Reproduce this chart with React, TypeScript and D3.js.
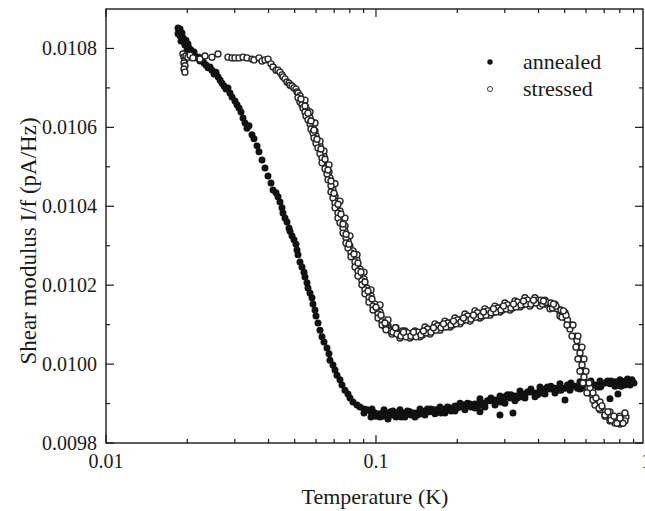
import React from "react";
import * as d3 from "d3";

// ---- data ----
const annealedT = [
  0.01848, 0.01864, 0.0188, 0.01848, 0.0188, 0.01912, 0.01928, 0.01896, 0.01945, 0.01978,
  0.01961, 0.02012, 0.0203, 0.01995, 0.02065, 0.02082, 0.02118, 0.02136, 0.02173, 0.0221,
  0.02229, 0.02268, 0.02307, 0.02346, 0.02387, 0.02428, 0.02469, 0.02512, 0.02555, 0.02599,
  0.02644, 0.02689, 0.02736, 0.02783, 0.0283, 0.02879, 0.02929, 0.03004, 0.03056, 0.03109,
  0.03162, 0.03217, 0.03272, 0.03328, 0.03386, 0.03473, 0.03533, 0.03625, 0.03687, 0.03782,
  0.0388, 0.03981, 0.04084, 0.04155, 0.04262, 0.04336, 0.0441, 0.04486, 0.04524, 0.04602,
  0.04681, 0.04762, 0.04803, 0.04885, 0.04969, 0.05055, 0.05098, 0.05142, 0.0523, 0.0532,
  0.05412, 0.05458, 0.05552, 0.056, 0.05696, 0.05794, 0.05843, 0.05944, 0.05995, 0.06098,
  0.06203, 0.0631, 0.06418, 0.06585, 0.06698, 0.06755, 0.0693, 0.07049, 0.07171, 0.07356,
  0.07483, 0.07677, 0.07875, 0.08011, 0.08219, 0.08504, 0.08724, 0.09027, 0.09261, 0.09582,
  0.09915, 0.1035, 0.1071, 0.1108, 0.1146, 0.1186, 0.1227, 0.128, 0.1336, 0.1395,
  0.1455, 0.1519, 0.1585, 0.1654, 0.1726, 0.1801, 0.188, 0.1961, 0.2047, 0.2136,
  0.2229, 0.2326, 0.2428, 0.2428, 0.2533, 0.2644, 0.2759, 0.2879, 0.2879, 0.3004,
  0.3135, 0.3217, 0.3272, 0.3415, 0.3563, 0.3718, 0.388, 0.405, 0.4226, 0.441,
  0.4602, 0.4803, 0.5012, 0.5012, 0.523, 0.5458, 0.5696, 0.5944, 0.6203, 0.6473,
  0.6755, 0.7049, 0.7356, 0.7356, 0.7677, 0.7875, 0.8011, 0.836, 0.8577, 0.8875,
  // lower edge of the band
  0.09027, 0.09582, 0.1035, 0.1108, 0.1186, 0.128, 0.1395, 0.1519, 0.1654, 0.1801,
  0.1961, 0.2136, 0.2326, 0.2533, 0.2759, 0.3004, 0.3272, 0.3563, 0.388, 0.4226,
  0.4602, 0.523, 0.5696, 0.6203, 0.6755, 0.7677, 0.836,
  // upper edge of the band
  0.1071, 0.1227, 0.1455, 0.1726, 0.2047, 0.2428, 0.2879, 0.3415, 0.405, 0.4803,
  0.5696, 0.6755, 0.8011, 0.8875,
  // more points inside the flat band
  0.10574, 0.11319, 0.12116, 0.13076, 0.14251, 0.15518, 0.16897, 0.18399, 0.20034, 0.21821,
  0.23762, 0.25877, 0.28186, 0.30689, 0.33427, 0.364, 0.39638, 0.43173, 0.47014, 0.51203,
  0.55759, 0.60724, 0.66128, 0.72013, 0.78428, 0.85406,
  0.09664, 0.1, 0.11558, 0.12375, 0.13474, 0.14675, 0.15986, 0.17408, 0.18961, 0.20645,
  0.22481, 0.24488, 0.26666, 0.29036, 0.31618, 0.34442, 0.37498, 0.40847, 0.44477, 0.48441,
  0.52748, 0.57448, 0.6256, 0.68128, 0.7419, 0.80796, 0.8731, 0.9028,
];
const annealedV = [
  0.010852, 0.010844, 0.010849, 0.010837, 0.010832, 0.010839, 0.010827, 0.010819, 0.010816, 0.010821,
  0.010809, 0.010811, 0.010801, 0.010796, 0.010796, 0.010786, 0.010791, 0.010781, 0.010776, 0.010778,
  0.010768, 0.010771, 0.010763, 0.010758, 0.010751, 0.010753, 0.010745, 0.010735, 0.01074, 0.010728,
  0.01072, 0.010712, 0.010705, 0.010697, 0.0107, 0.010687, 0.010677, 0.010667, 0.010657, 0.010649,
  0.010639, 0.010624, 0.010611, 0.010598, 0.010604, 0.010581, 0.010571, 0.010553, 0.010538, 0.010517,
  0.010497, 0.010477, 0.010459, 0.010441, 0.010434, 0.010424, 0.010411, 0.010396, 0.010383, 0.01037,
  0.01036, 0.010345, 0.010337, 0.010325, 0.010315, 0.010304, 0.010289, 0.010277, 0.010259, 0.010246,
  0.010233, 0.010221, 0.010206, 0.010193, 0.01018, 0.010168, 0.010152, 0.010137, 0.010122, 0.010104,
  0.010086, 0.010069, 0.010056, 0.010041, 0.010026, 0.01001, 0.009998, 0.009985, 0.009972, 0.00996,
  0.009947, 0.009934, 0.009924, 0.009914, 0.009904, 0.009896, 0.009891, 0.009886, 0.009884, 0.009879,
  0.009876, 0.009874, 0.009876, 0.009874, 0.009871, 0.009876, 0.009874, 0.009876, 0.009879, 0.009876,
  0.009879, 0.009881, 0.009879, 0.009884, 0.009884, 0.009886, 0.009889, 0.009894, 0.009891, 0.009896,
  0.009899, 0.009899, 0.009904, 0.009879, 0.009901, 0.009907, 0.009909, 0.009912, 0.009871, 0.009917,
  0.009914, 0.009876, 0.009919, 0.009924, 0.009924, 0.009929, 0.009927, 0.009934, 0.009937, 0.009937,
  0.009939, 0.009942, 0.009939, 0.009909, 0.009944, 0.009944, 0.009947, 0.009944, 0.00995, 0.009947,
  0.00995, 0.009952, 0.00995, 0.009912, 0.009955, 0.009924, 0.009952, 0.009957, 0.00995, 0.009955,
  // lower edge
  0.009876, 0.009866, 0.009866, 0.009861, 0.009866, 0.009866, 0.009866, 0.009871, 0.009874, 0.009876,
  0.009881, 0.009884, 0.009889, 0.009891, 0.009896, 0.009901, 0.009907, 0.009914, 0.009917, 0.009924,
  0.009927, 0.009934, 0.009937, 0.009939, 0.009942, 0.009944, 0.009947,
  // upper edge
  0.009884, 0.009884, 0.009886, 0.009891, 0.009901, 0.009912, 0.009919, 0.009932, 0.009942, 0.00995,
  0.009955, 0.009957, 0.00996, 0.00996,
  // more points inside the flat band
  0.009868, 0.009879, 0.009868, 0.009881, 0.009871, 0.009886, 0.009879, 0.009891, 0.009889, 0.009901,
  0.009894, 0.009907, 0.009904, 0.009922, 0.009914, 0.009929, 0.009922, 0.009942, 0.009934, 0.009947,
  0.009939, 0.009952, 0.009942, 0.009957, 0.009947, 0.009962,
  0.009886, 0.009868, 0.009881, 0.009866, 0.009871, 0.009874, 0.009886, 0.009876, 0.009881, 0.009899,
  0.009891, 0.009896, 0.009914, 0.009904, 0.009922, 0.009917, 0.009937, 0.009927, 0.009944, 0.009934,
  0.009952, 0.009939, 0.009957, 0.009944, 0.009957, 0.009944, 0.009947, 0.009952,
];

const stressedT = [
  0.01928, 0.01945, 0.01961, 0.01945, 0.01961, 0.01945, 0.01961, 0.01978, 0.02012, 0.02047,
  0.021, 0.02229, 0.02326, 0.02469, 0.02599, 0.0283, 0.02929, 0.03004, 0.03109, 0.03217,
  0.03328, 0.03473, 0.03533, 0.03687, 0.03782, 0.0388, 0.03981, 0.04084, 0.04155, 0.04262,
  0.04336, 0.0441, 0.04486, 0.04524, 0.04602, 0.04681, 0.04762, 0.04803, 0.04885, 0.04969,
  0.05055, 0.05098, 0.05142, 0.0523, 0.0532, 0.05412, 0.05458, 0.05552, 0.056, 0.05696,
  0.05794, 0.05843, 0.05944, 0.05995, 0.06098, 0.06203, 0.0631, 0.06418, 0.06418, 0.06585,
  0.06698, 0.06755, 0.0693, 0.0693, 0.07049, 0.07171, 0.07171, 0.07356, 0.07356, 0.07483,
  0.07677, 0.07677, 0.07875, 0.07875, 0.08011, 0.08219, 0.08219, 0.08504, 0.08504, 0.08724,
  0.08724, 0.09027, 0.09027, 0.09261, 0.09261, 0.09582, 0.09582, 0.09915, 0.09915, 0.1035,
  0.1035, 0.1071, 0.1071, 0.1108, 0.1108, 0.1146, 0.1186, 0.1227, 0.128, 0.1336,
  0.1395, 0.1455, 0.1519, 0.1585, 0.1654, 0.1726, 0.1801, 0.188, 0.1961, 0.2047,
  0.2136, 0.2229, 0.2326, 0.2428, 0.2533, 0.2644, 0.2759, 0.2879, 0.3004, 0.3135,
  0.3272, 0.3415, 0.3563, 0.3718, 0.388, 0.405, 0.4226, 0.441, 0.4602, 0.4803,
  0.5012, 0.523, 0.5458, 0.5552, 0.5648, 0.5696, 0.5745, 0.5794, 0.5843, 0.5894,
  0.5995, 0.6098, 0.6203, 0.6364, 0.6529, 0.6698, 0.6871, 0.7049, 0.7232, 0.7419,
  0.7611, 0.7809, 0.8011, 0.8219, 0.8432,
  // upper edge of the flat band
  0.1186, 0.128, 0.1395, 0.1519, 0.1654, 0.1801, 0.1961, 0.2136, 0.2326, 0.2533,
  0.2759, 0.3004, 0.3272, 0.3563, 0.388, 0.4226, 0.4602, 0.5012,
  // lower edge of the flat band
  0.1146, 0.1227, 0.1336, 0.1455, 0.1585, 0.1726, 0.188, 0.2047, 0.2229, 0.2428,
  0.2644, 0.2879, 0.3135, 0.3415, 0.3718, 0.405, 0.441, 0.4803, 0.523,
  // tail band edges
  0.6473, 0.6755, 0.7049, 0.7356, 0.7677, 0.8011, 0.836,
  0.6203, 0.6755, 0.7356, 0.8011, 0.836,
  // right edge of the steep part
  0.05458, 0.05696, 0.05944, 0.06203, 0.06418, 0.06698, 0.07049, 0.07356, 0.07677, 0.08011,
  0.08504, 0.09027, 0.09582, 0.1035, 0.1108,
  // more points in the flat band
  0.13076, 0.13649, 0.14251, 0.14864, 0.15518, 0.16192, 0.16897, 0.17633, 0.18399, 0.19206,
  0.20034, 0.20912, 0.21821, 0.22771, 0.23762, 0.24804, 0.25877, 0.27011, 0.28186, 0.29412,
  0.30689, 0.32027, 0.33427, 0.34888, 0.364, 0.37983, 0.39638, 0.41375, 0.43173, 0.45053,
  0.47014, 0.49067, 0.51203, 0.12116, 0.12535, 0.11708, 0.11319,
  // left edge of the steep part
  0.05142, 0.0523, 0.0532, 0.05366, 0.05458, 0.05505, 0.056, 0.05696, 0.05744, 0.05843,
  0.05894, 0.05995, 0.06098, 0.06203, 0.0631, 0.0631, 0.06474, 0.06585, 0.06641, 0.06813,
  0.06813, 0.0693, 0.0705, 0.0705, 0.07232, 0.07232, 0.07356, 0.07547, 0.07547, 0.07742,
  0.07742, 0.07875, 0.0808, 0.0808, 0.0836, 0.0836, 0.08576, 0.08576, 0.08874, 0.08874,
  0.09104, 0.09104, 0.0942, 0.0942, 0.09747, 0.09747, 0.10175, 0.10175, 0.10529, 0.10529,
  0.10893, 0.10893,
  // drop and tail
  0.53655, 0.55994, 0.57943, 0.58939, 0.59944, 0.61503, 0.63637,
  0.53201, 0.55053, 0.55999, 0.56954, 0.58436, 0.60463, 0.48854, 0.50979,
  0.6364, 0.6698, 0.7049, 0.7419, 0.7809, 0.8219,
  0.6529, 0.6871, 0.7232, 0.7611, 0.8011,
  // further points in the flat band
  0.11558, 0.11962, 0.12375, 0.1291, 0.13474, 0.14069, 0.14675, 0.1532, 0.15986, 0.16682,
  0.17408, 0.18164, 0.18961, 0.19778, 0.20645, 0.21543, 0.22481, 0.23459, 0.24488, 0.25547,
  0.26666, 0.27826, 0.29036, 0.30297, 0.31618, 0.33, 0.34442, 0.3594, 0.37498, 0.39132,
  0.40847, 0.42622, 0.44477, 0.46414, 0.48441, 0.50549,
  0.11807, 0.12642, 0.13765, 0.14991, 0.1633, 0.17783, 0.1937, 0.2109, 0.22965, 0.25016,
  0.27241, 0.29662, 0.323, 0.35185, 0.38307, 0.41727, 0.45436, 0.49485,
  // further points in the steep part
  0.05275, 0.05458, 0.056, 0.05745, 0.05893, 0.06046, 0.06256, 0.06473, 0.06641, 0.06813,
  0.06989, 0.07232, 0.07419, 0.07547, 0.07743, 0.07942, 0.08289, 0.08577, 0.08799, 0.09104,
  0.0934, 0.09664, 0.1, 0.10439, 0.10802,
];
const stressedV = [
  0.010786, 0.010778, 0.010771, 0.010763, 0.010756, 0.010748, 0.01074, 0.010781, 0.010778, 0.010783,
  0.010776, 0.010773, 0.010781, 0.010778, 0.010786, 0.010778, 0.010776, 0.010776, 0.010776, 0.010778,
  0.010776, 0.010773, 0.010771, 0.010776, 0.010768, 0.010771, 0.010773, 0.010761, 0.010753, 0.010745,
  0.010745, 0.01074, 0.010733, 0.010728, 0.010723, 0.010715, 0.010712, 0.010707, 0.010705, 0.0107,
  0.010697, 0.01069, 0.010687, 0.01068, 0.010669, 0.010662, 0.010654, 0.010644, 0.010634, 0.010624,
  0.010614, 0.010601, 0.010591, 0.010578, 0.010565, 0.010553, 0.010538, 0.010527, 0.010515, 0.0105,
  0.010487, 0.010472, 0.010457, 0.010441, 0.010426, 0.010413, 0.010401, 0.010388, 0.010375, 0.010363,
  0.01035, 0.010337, 0.010325, 0.010312, 0.010299, 0.010287, 0.010277, 0.010264, 0.010251, 0.010241,
  0.010228, 0.010216, 0.010206, 0.010193, 0.010183, 0.010173, 0.010162, 0.010152, 0.010142, 0.010132,
  0.010122, 0.010112, 0.010104, 0.010097, 0.010092, 0.010086, 0.010081, 0.010076, 0.010074, 0.010076,
  0.010074, 0.010079, 0.010084, 0.010086, 0.010092, 0.010097, 0.010099, 0.010104, 0.010107, 0.010112,
  0.010117, 0.010119, 0.010124, 0.010127, 0.01013, 0.010135, 0.010137, 0.010142, 0.010145, 0.010147,
  0.01015, 0.010155, 0.010157, 0.010157, 0.01016, 0.010157, 0.010152, 0.01015, 0.010142, 0.010132,
  0.010119, 0.010099, 0.010071, 0.010059, 0.010043, 0.010028, 0.010013, 0.009998, 0.009982, 0.009967,
  0.009952, 0.009939, 0.009927, 0.009917, 0.009906, 0.009896, 0.009886, 0.009879, 0.009871, 0.009866,
  0.009861, 0.009858, 0.009856, 0.009858, 0.009866,
  // upper edge
  0.010092, 0.010084, 0.010084, 0.010094, 0.010102, 0.010109, 0.010117, 0.010127, 0.010135, 0.01014,
  0.010147, 0.010155, 0.01016, 0.010168, 0.010168, 0.010162, 0.010152, 0.01013,
  // lower edge
  0.010076, 0.010066, 0.010066, 0.010069, 0.010076, 0.010086, 0.010094, 0.010102, 0.010109, 0.010117,
  0.010124, 0.010132, 0.010137, 0.010145, 0.010147, 0.010147, 0.01014, 0.010122, 0.010089,
  // tail
  0.009896, 0.009884, 0.009868, 0.009856, 0.009851, 0.009848, 0.009856,
  0.009939, 0.009904, 0.009879, 0.009868, 0.009876,
  // right edge steep
  0.010669, 0.010639, 0.010611, 0.010565, 0.01054, 0.010505, 0.010457, 0.010413, 0.01037, 0.010325,
  0.010277, 0.010233, 0.010188, 0.01015, 0.010112,
  // more points in the flat band
  0.010079, 0.010071, 0.010081, 0.010074, 0.010089, 0.010084, 0.010097, 0.010094, 0.010104, 0.010099,
  0.010112, 0.010109, 0.010122, 0.010117, 0.01013, 0.010122, 0.010135, 0.01013, 0.010142, 0.010137,
  0.01015, 0.010142, 0.010157, 0.01015, 0.010162, 0.010155, 0.010162, 0.010152, 0.010155, 0.010142,
  0.01014, 0.010122, 0.010112, 0.010076, 0.010084, 0.010081, 0.010084,
  // left edge steep
  0.010675, 0.010664, 0.010657, 0.010649, 0.010639, 0.010629, 0.010619, 0.010609, 0.010596, 0.010586,
  0.010573, 0.01056, 0.010548, 0.010533, 0.010522, 0.01051, 0.010495, 0.010482, 0.010467, 0.010452,
  0.010436, 0.010421, 0.010408, 0.010396, 0.010383, 0.01037, 0.010358, 0.010345, 0.010332, 0.01032,
  0.010307, 0.010294, 0.010282, 0.010272, 0.010259, 0.010246, 0.010236, 0.010223, 0.010211, 0.010201,
  0.010188, 0.010178, 0.010168, 0.010157, 0.010147, 0.010137, 0.010127, 0.010117, 0.010107, 0.010099,
  0.010092, 0.010087,
  // drop and tail
  0.010099, 0.010071, 0.010043, 0.010013, 0.009982, 0.009952, 0.009927,
  0.010071, 0.010043, 0.010013, 0.009982, 0.009952, 0.009927, 0.010119, 0.010099,
  0.009909, 0.009888, 0.009871, 0.009858, 0.00985, 0.00985,
  0.009914, 0.009894, 0.009879, 0.009868, 0.009863,
  // further points in the flat band
  0.010081, 0.010076, 0.010071, 0.010069, 0.010071, 0.010069, 0.010074, 0.010079, 0.010081, 0.010086,
  0.010092, 0.010094, 0.010099, 0.010102, 0.010107, 0.010112, 0.010114, 0.010119, 0.010122, 0.010124,
  0.01013, 0.010132, 0.010137, 0.01014, 0.010142, 0.010145, 0.01015, 0.010152, 0.010152, 0.010155,
  0.010162, 0.010157, 0.010155, 0.010147, 0.010137, 0.010124,
  0.010092, 0.010081, 0.010081, 0.010084, 0.010092, 0.010102, 0.010109, 0.010117, 0.010124, 0.010132,
  0.01014, 0.010147, 0.010152, 0.01016, 0.010162, 0.01016, 0.010152, 0.010135,
  // further points in the steep part
  0.010672, 0.010654, 0.010636, 0.010616, 0.010593, 0.01057, 0.010545, 0.010519, 0.010492, 0.010464,
  0.010433, 0.010405, 0.01038, 0.010355, 0.010329, 0.010304, 0.010279, 0.010256, 0.010233, 0.010208,
  0.010185, 0.010165, 0.010144, 0.010124, 0.010104,
];

const xMajorTicks = [0.01, 0.1, 1];
const xTickLabels = ["0.01", "0.1", "1"];
const xMinorTicks = [0.02, 0.03, 0.04, 0.05, 0.06, 0.07, 0.08, 0.09, 0.2, 0.3, 0.4, 0.5, 0.6, 0.7, 0.8, 0.9];
const yMajorTicks = [0.0098, 0.01, 0.0102, 0.0104, 0.0106, 0.0108];
const yTickLabels = ["0.0098", "0.0100", "0.0102", "0.0104", "0.0106", "0.0108"];
const yMinorTicks = [0.0099, 0.0101, 0.0103, 0.0105, 0.0107];
const seriesNames = ["annealed", "stressed"];

const W = 645;
const H = 511;
const FONT = '"Liberation Serif", "Times New Roman", Times, "DejaVu Serif", serif';

export default function App() {
  const x = d3.scaleLog().domain([0.01, 0.975]).range([106, 643]);
  const y = d3.scaleLinear().domain([0.0098, 0.0109]).range([443, 9]);
  const [x0, x1] = x.range();
  const [y0, y1] = y.range();
  const majorLen = 8;
  const minorLen = 4;
  const ink = "#1a1a1a";
  const tStyle = { fontFamily: FONT };

  const annealed = annealedT.map((t, i) => [t, annealedV[i]]);
  const stressed = stressedT.map((t, i) => [t, stressedV[i]]);

  return (
    <svg
      width={W}
      height={H}
      style={{ position: "absolute", left: 0, top: 0, background: "#fff", fontFamily: FONT }}
    >
      <rect x={0} y={0} width={W} height={H} fill="#fff" />
      <defs>
        <clipPath id="plotclip">
          <rect x={x0} y={y1} width={x1 - x0} height={y0 - y1} />
        </clipPath>
      </defs>

      {/* data */}
      <g clipPath="url(#plotclip)">
        {annealed.map((d, i) => (
          <circle key={"a" + i} cx={x(d[0])} cy={y(d[1])} r={3.5} fill="#111" />
        ))}
        {stressed.map((d, i) => (
          <circle
            key={"s" + i}
            cx={x(d[0])}
            cy={y(d[1])}
            r={3}
            fill="#fff"
            stroke="#262626"
            strokeWidth={1.4}
          />
        ))}
      </g>

      {/* frame */}
      <rect x={x0} y={y1} width={x1 - x0} height={y0 - y1} fill="none" stroke={ink} strokeWidth={1.4} />

      {/* x ticks bottom & top */}
      {xMajorTicks.filter((t) => x(t) <= x1 + 0.5).map((t) => (
        <g key={"xM" + t}>
          <line x1={x(t)} x2={x(t)} y1={y0} y2={y0 - majorLen} stroke={ink} strokeWidth={1.2} />
          <line x1={x(t)} x2={x(t)} y1={y1} y2={y1 + majorLen} stroke={ink} strokeWidth={1.2} />
        </g>
      ))}
      {xMinorTicks.map((t) => (
        <g key={"xm" + t}>
          <line x1={x(t)} x2={x(t)} y1={y0} y2={y0 - minorLen} stroke={ink} strokeWidth={1.2} />
          <line x1={x(t)} x2={x(t)} y1={y1} y2={y1 + minorLen} stroke={ink} strokeWidth={1.2} />
        </g>
      ))}
      {xMajorTicks.map((t, i) => (
        <text key={"xl" + t} x={x(t)} y={468} fontSize={20} textAnchor="middle" fill={ink} style={tStyle}>
          {xTickLabels[i]}
        </text>
      ))}

      {/* y ticks left & right */}
      {yMajorTicks.map((t, i) => (
        <g key={"yM" + t}>
          <line x1={x0} x2={x0 + majorLen} y1={y(t)} y2={y(t)} stroke={ink} strokeWidth={1.2} />
          <line x1={x1} x2={x1 - majorLen} y1={y(t)} y2={y(t)} stroke={ink} strokeWidth={1.2} />
          <text x={97} y={y(t) + 7} fontSize={20} textAnchor="end" fill={ink} style={tStyle}>
            {yTickLabels[i]}
          </text>
        </g>
      ))}
      {yMinorTicks.map((t) => (
        <g key={"ym" + t}>
          <line x1={x0} x2={x0 + minorLen} y1={y(t)} y2={y(t)} stroke={ink} strokeWidth={1.2} />
          <line x1={x1} x2={x1 - minorLen} y1={y(t)} y2={y(t)} stroke={ink} strokeWidth={1.2} />
        </g>
      ))}

      {/* axis titles */}
      <text x={375} y={504} fontSize={22} textAnchor="middle" fill={ink} style={tStyle}>
        Temperature (K)
      </text>
      <text
        transform="translate(36,241) rotate(-90)"
        fontSize={23}
        textAnchor="middle"
        fill={ink}
        style={tStyle}
      >
        Shear modulus I/f (pA/Hz)
      </text>

      {/* legend */}
      <circle cx={490} cy={62} r={2.7} fill="#111" />
      <text x={523} y={69} fontSize={22} fill={ink} style={tStyle}>
        {seriesNames[0]}
      </text>
      <circle cx={490} cy={89} r={2.5} fill="#fff" stroke="#222" strokeWidth={0.9} />
      <text x={523} y={96} fontSize={22} fill={ink} style={tStyle}>
        {seriesNames[1]}
      </text>
    </svg>
  );
}
